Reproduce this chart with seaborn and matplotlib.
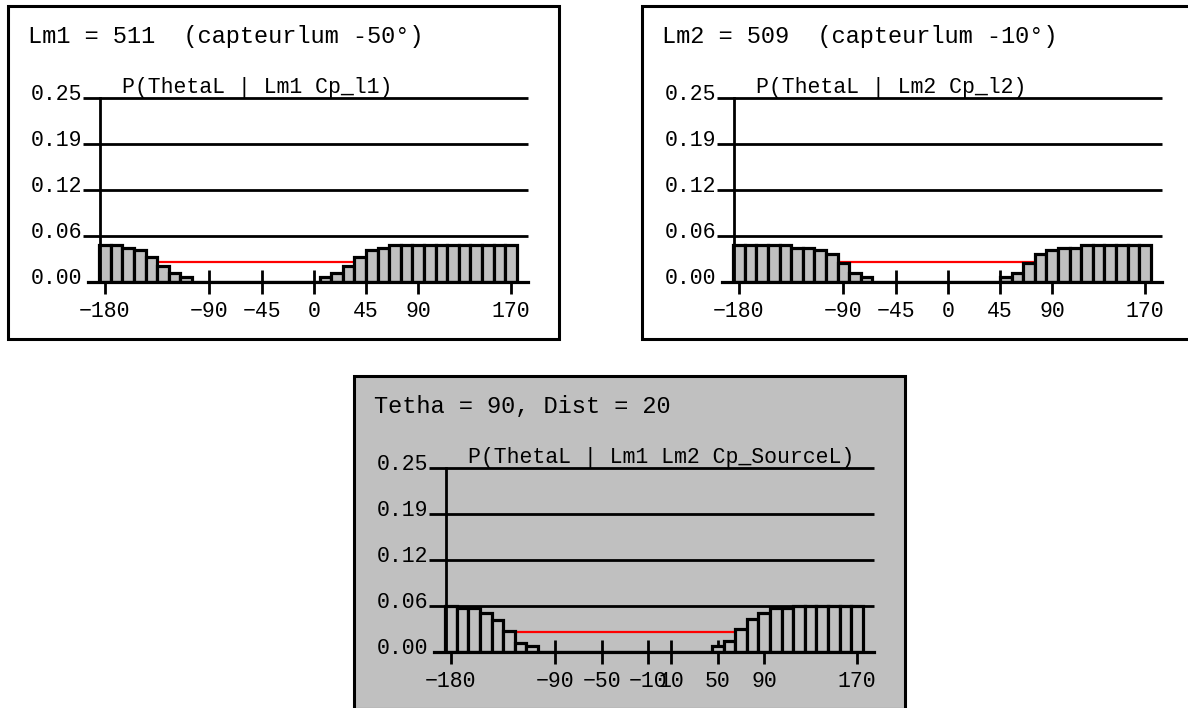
import matplotlib
matplotlib.use("Agg")
import matplotlib.pyplot as plt
from matplotlib.patches import Rectangle
from matplotlib.transforms import offset_copy
import seaborn as sns
import pandas as pd

# ---------------- data ----------------
angles = [-180, -170, -160, -150, -140, -130, -120, -110, -100, -90,
          -80, -70, -60, -50, -40, -30, -20, -10, 0, 10,
          20, 30, 40, 50, 60, 70, 80, 90, 100, 110,
          120, 130, 140, 150, 160, 170]

p_lm1 = [0.0502, 0.0502, 0.0461, 0.0433, 0.0338, 0.0214, 0.0119, 0.0064, 0.0, 0.0,
         0.0, 0.0, 0.0, 0.0, 0.0, 0.0, 0.0, 0.0, 0.0, 0.0064,
         0.0119, 0.0214, 0.0338, 0.0433, 0.0461, 0.0502, 0.0502, 0.0502, 0.0502, 0.0502,
         0.0502, 0.0502, 0.0502, 0.0502, 0.0502, 0.0502]

p_lm2 = [0.0502, 0.0502, 0.0502, 0.0502, 0.0502, 0.0461, 0.0461, 0.0429, 0.0379, 0.0255,
         0.0119, 0.0064, 0.0, 0.0, 0.0, 0.0, 0.0, 0.0, 0.0, 0.0,
         0.0, 0.0, 0.0, 0.0064, 0.0119, 0.0255, 0.0379, 0.0429, 0.0461, 0.0461,
         0.0502, 0.0502, 0.0502, 0.0502, 0.0502, 0.0502]

p_source = [0.0625, 0.0593, 0.0593, 0.0534, 0.0439, 0.0281, 0.0122, 0.0077, 0.0, 0.0,
            0.0, 0.0, 0.0, 0.0, 0.0, 0.0, 0.0, 0.0, 0.0, 0.0,
            0.0, 0.0, 0.0, 0.0077, 0.0149, 0.0317, 0.0444, 0.0534, 0.0593, 0.0593,
            0.0625, 0.0625, 0.0625, 0.0625, 0.0625, 0.0625]

prior_level = 0.0278

y_ticks = [0.0, 0.0625, 0.125, 0.1875, 0.25]
y_ticklabels = ["0.00", "0.06", "0.12", "0.19", "0.25"]

x_ticks_top = [-180, -90, -45, 0, 45, 90, 170]
x_ticklabels_top = ["\u2212180", "\u221290", "\u221245", "0", "45", "90", "170"]
x_ticks_bottom = [-180, -90, -50, -10, 10, 50, 90, 170]
x_ticklabels_bottom = ["\u2212180", "\u221290", "\u221250", "\u221210", "10", "50", "90", "170"]

headers = ["Lm1 = 511  (capteurlum -50\u00b0)",
           "Lm2 = 509  (capteurlum -10\u00b0)",
           "Tetha = 90, Dist = 20"]
subtitles = ["P(ThetaL | Lm1 Cp_l1)",
             "P(ThetaL | Lm2 Cp_l2)",
             "P(ThetaL | Lm1 Lm2 Cp_SourceL)"]

# ---------------- layout ----------------
W, H = 1188, 708
MONO = "Liberation Mono"
plt.rcParams["font.family"] = [MONO, "DejaVu Sans"]

fig = plt.figure(figsize=(W / 100, H / 100), dpi=100)
fig.patch.set_facecolor("white")

k = 406 / 350.0  # px per degree
xlim = (-180 - 22 / k, 170 + 17 / k)
yaxis_x = -180 - 5 / k
base_start = -180 - 17 / k

panels = [
    dict(dx=0, dy=0, vals=p_lm1, xt=x_ticks_top, xtl=x_ticklabels_top, bg="white",
         header=headers[0], sub=subtitles[0]),
    dict(dx=634, dy=0, vals=p_lm2, xt=x_ticks_top, xtl=x_ticklabels_top, bg="white",
         header=headers[1], sub=subtitles[1]),
    dict(dx=346, dy=370, vals=p_source, xt=x_ticks_bottom, xtl=x_ticklabels_bottom,
         bg="#c0c0c0", header=headers[2], sub=subtitles[2]),
]

for p in panels:
    dx, dy = p["dx"], p["dy"]
    # frame box
    fig.add_artist(Rectangle(((8 + dx) / W, 1 - (339 + dy) / H), 551 / W, 333 / H,
                             transform=fig.transFigure, facecolor=p["bg"],
                             edgecolor="black", linewidth=2.2, zorder=0))
    fig.text((28 + dx) / W, 1 - (43 + dy) / H, p["header"], fontsize=17,
             family=MONO, va="baseline", ha="left", color="black")

    ax = fig.add_axes([(83 + dx) / W, 1 - (282 + dy) / H, 445 / W, 184 / H])
    ax.patch.set_visible(False)

    df = pd.DataFrame({"angle": angles, "p": p["vals"]})
    sns.barplot(data=df, x="angle", y="p", native_scale=True, width=1.0,
                color="#c0c0c0", saturation=1, edgecolor="black", linewidth=2.3,
                errorbar=None, ax=ax, zorder=1)

    # grid lines
    ax.hlines(y_ticks[1:], xlim[0], xlim[1], colors="black", linewidth=2.0,
              zorder=0.6, clip_on=False)
    # prior (uniform) level
    ax.hlines(prior_level, -185, 175, colors="#ff0000", linewidth=1.6, zorder=0.7)

    ax.set_xlim(*xlim)
    ax.set_ylim(0, 0.25)
    ax.set_xlabel("")
    ax.set_ylabel("")

    for s in ("top", "right"):
        ax.spines[s].set_visible(False)
    ax.spines["bottom"].set_position(("data", 0))
    ax.spines["bottom"].set_bounds(base_start, xlim[1])
    ax.spines["bottom"].set_linewidth(2.3)
    ax.spines["left"].set_position(("data", yaxis_x))
    ax.spines["left"].set_bounds(0, 0.25)
    ax.spines["left"].set_linewidth(2.0)

    ax.set_axisbelow(True)
    ax.set_xticks(p["xt"])
    ax.set_xticklabels(p["xtl"], fontsize=15.5, family=MONO)
    ax.tick_params(axis="x", direction="inout", length=17, width=2.0, pad=5,
                   colors="black")
    ax.tick_params(axis="y", left=False, labelleft=False)

    # y tick labels sitting on the grid lines
    ytr = offset_copy(ax.transData, fig=fig, x=-1.0, y=-1.5, units="dots")
    for v, lab in zip(y_ticks, y_ticklabels):
        ax.text(xlim[0], v, lab, transform=ytr, ha="right", va="baseline",
                fontsize=15.5, family=MONO, color="black", clip_on=False)

    # subtitle
    str_ = offset_copy(ax.transData, fig=fig, x=22, y=5, units="dots")
    ax.text(yaxis_x, 0.25, p["sub"], transform=str_, ha="left", va="baseline",
            fontsize=15.5, family=MONO, color="black", clip_on=False)

fig.savefig("out.png", dpi=100, facecolor="white")
